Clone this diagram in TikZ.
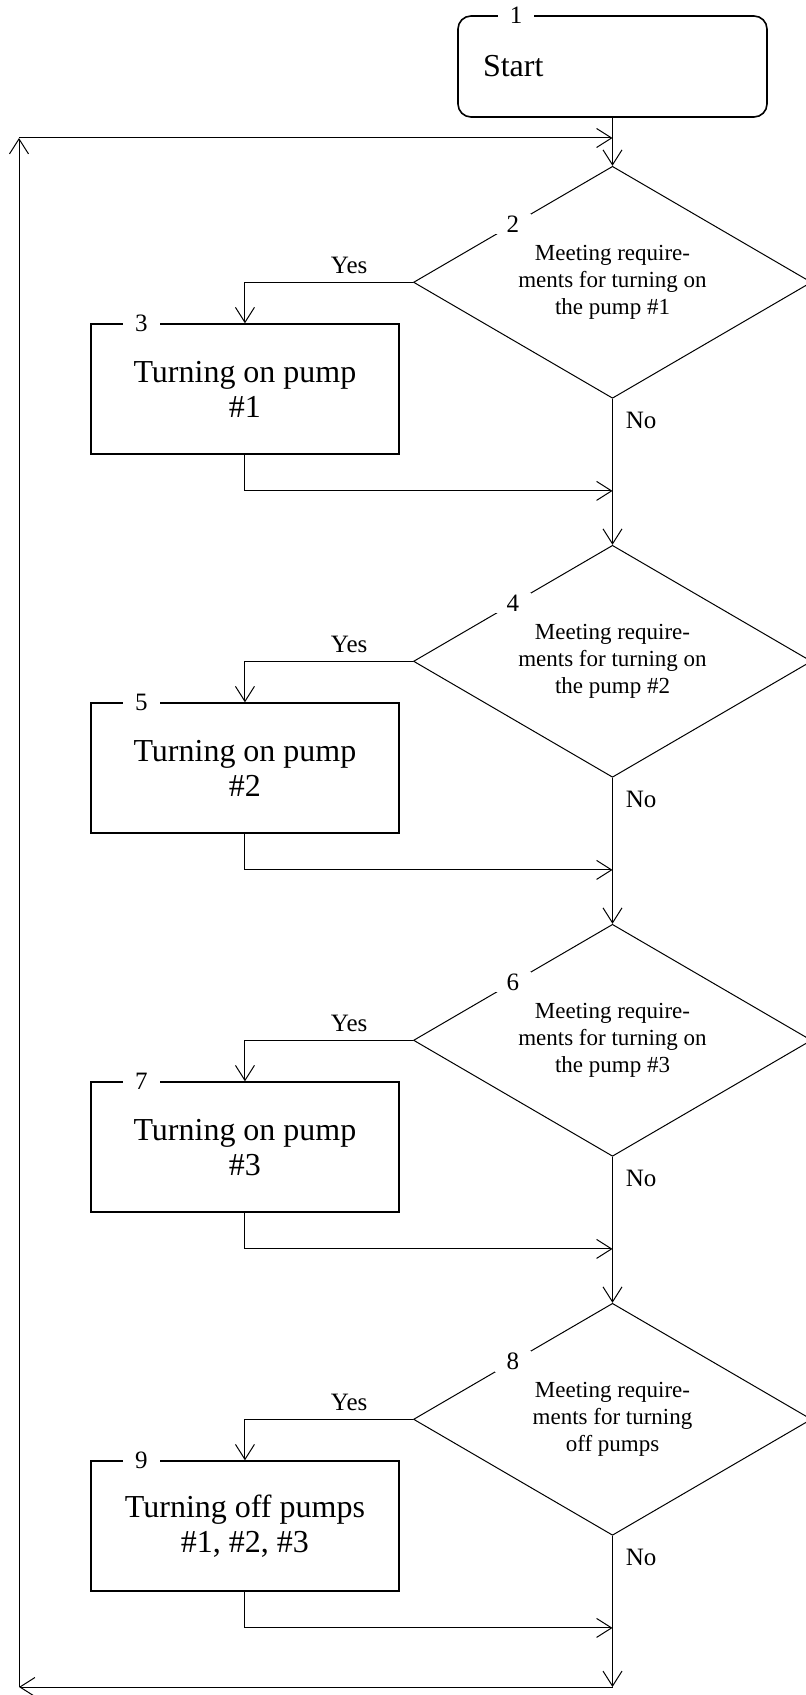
\documentclass[tikz,border=0pt]{standalone}
\usepackage{fontspec}
\setmainfont{Liberation Serif}
\usetikzlibrary{
calc,
positioning,
shapes.geometric,
arrows.meta,
}
\tikzset{
node distance=73pt,
outer sep=auto,
every node/.style={align=center},
terminal/.style={rectangle, rounded corners=6.5pt, draw, line width=0.8pt,
  minimum width=154.5pt, minimum height=50.5pt, text width=129.5pt, align=left,
  font=\fontsize{16}{18}\selectfont},
process/.style={rectangle, draw, line width=0.8pt, minimum width=154.25pt,
  minimum height=65pt, font=\fontsize{16}{17.5}\selectfont},
decision/.style={diamond, aspect=1.716, draw, line width=0.5pt, inner sep=0pt,
  minimum width=199pt, minimum height=116pt, font=\fontsize{11.5}{13.5}\selectfont},
tag/.style={fill=white, inner xsep=6pt, inner ysep=1pt, font=\fontsize{12.5}{14}\selectfont},
answer/.style={font=\fontsize{12.5}{14}\selectfont},
flow/.style={draw, line width=0.5pt, ->},
>={Straight Barb[length=7.5pt,width=9.5pt]},
}
\begin{document}
\begin{tikzpicture}[x=0.5pt, y=-0.5pt]
    \useasboundingbox (0,0) rectangle (806,1695);
    \clip (0,0) rectangle (806,1695);

    % main column
    \node [terminal] (start) at (612.5,66.5) {Start};
    \node [decision, below=24pt of start] (d2) {Meeting require-\\ments for turning on\\the pump \#1};
    \node [decision, below=of d2] (d4) {Meeting require-\\ments for turning on\\the pump \#2};
    \node [decision, below=of d4] (d6) {Meeting require-\\ments for turning on\\the pump \#3};
    \node [decision, below=of d6] (d8) {Meeting require-\\ments for turning\\off pumps};

    % actions
    \node [process, below left=20.5pt and 6.5pt of d2.west] (b3) {Turning on pump\\\#1};
    \node [process, below left=20.5pt and 6.5pt of d4.west] (b5) {Turning on pump\\\#2};
    \node [process, below left=20.5pt and 6.5pt of d6.west] (b7) {Turning on pump\\\#3};
    \node [process, below left=20.5pt and 6.5pt of d8.west] (b9) {Turning off pumps\\\#1, \#2, \#3};

    % numbers
    \node [tag] at ([xshift=29.5pt]start.north west) {1};
    \foreach \d/\n in {d2/2, d4/4, d6/6, d8/8}
        \node [tag] at ($(\d.west)!.5!(\d.north)$) {\n};
    \foreach \b/\n in {b3/3, b5/5, b7/7, b9/9}
        \node [tag] at ([xshift=25.75pt]\b.north west) {\n};

    % loop back
    \coordinate (sb) at (612.5,1687);
    \coordinate (lb) at (19,1687);
    \coordinate (lt) at (19,138);
    \coordinate (st) at (612.5,138);

    \draw [flow] (start) -- (d2);
    \foreach \d/\b/\e in {d2/b3/d4, d4/b5/d6, d6/b7/d8, d8/b9/sb} {
        \draw [flow] (\d.west) -| node [answer, pos=.19, above, yshift=1pt] {Yes} (\b.north);
        \draw [flow] (\d.south) -- node [answer, pos=0, anchor=north west, xshift=3.3pt, yshift=-3.3pt] {No} (\e);
        \coordinate (j\b) at ($(\b.south)+(0,-18pt)$);
        \draw [flow] (\b.south) -- (j\b) -- (j\b -| \e);
    }
    \draw [flow] (sb) -- (lb);
    \draw [flow] (lb) -- (lt);
    \draw [flow] (lt) -- (st);
\end{tikzpicture}
\end{document}
